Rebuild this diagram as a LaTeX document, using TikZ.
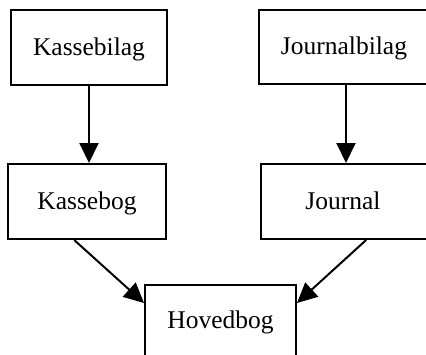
\documentclass[tikz,border=0pt]{standalone}
\usepackage{fontspec}
\setmainfont{Liberation Serif}
\usetikzlibrary{arrows.meta,calc}
\begin{document}
\begin{tikzpicture}[x=1pt,y=-1pt,
  box/.style={draw=black,line width=2pt,fill=white,inner sep=0pt,
    text height=18pt,text depth=3pt,
    font=\fontsize{25.5}{30}\selectfont},
  flow/.style={line width=2pt,-{Triangle[length=20pt,width=19pt]}}]
  \useasboundingbox (0,0) rectangle (426,354);
  \clip (0,0) rectangle (426,354);
  \fill[white] (0,0) rectangle (426,354);
  % source documents
  \node[box,minimum width=156pt,minimum height=75pt] (kbil) at (89,47.5) {Kassebilag};
  \node[box,minimum width=174pt,minimum height=74pt] (jbil) at (346,47) {\hspace*{-4pt}Journalbilag};
  % books
  \node[box,minimum width=158pt,minimum height=75pt] (kbog) at (87,201.5) {Kassebog};
  \node[box,minimum width=172pt,minimum height=75pt] (jour) at (347,201.5) {\hspace*{-8pt}Journal};
  % general ledger
  \node[box,minimum width=151pt,minimum height=72pt] (hbog) at (220.5,321) {Hovedbog};
  % flows
  \draw[flow] (kbil.south) -- (kbil.south |- kbog.north);
  \draw[flow] (jbil.south) -- (jbil.south |- jour.north);
  \draw[flow] ($(kbog.south west)!0.42!(kbog.south east)$) -- ($(hbog.north west)+(0,19)$);
  \draw[flow] ($(jour.south west)!0.61!(jour.south east)$) -- ($(hbog.north east)+(0,19)$);
\end{tikzpicture}
\end{document}
